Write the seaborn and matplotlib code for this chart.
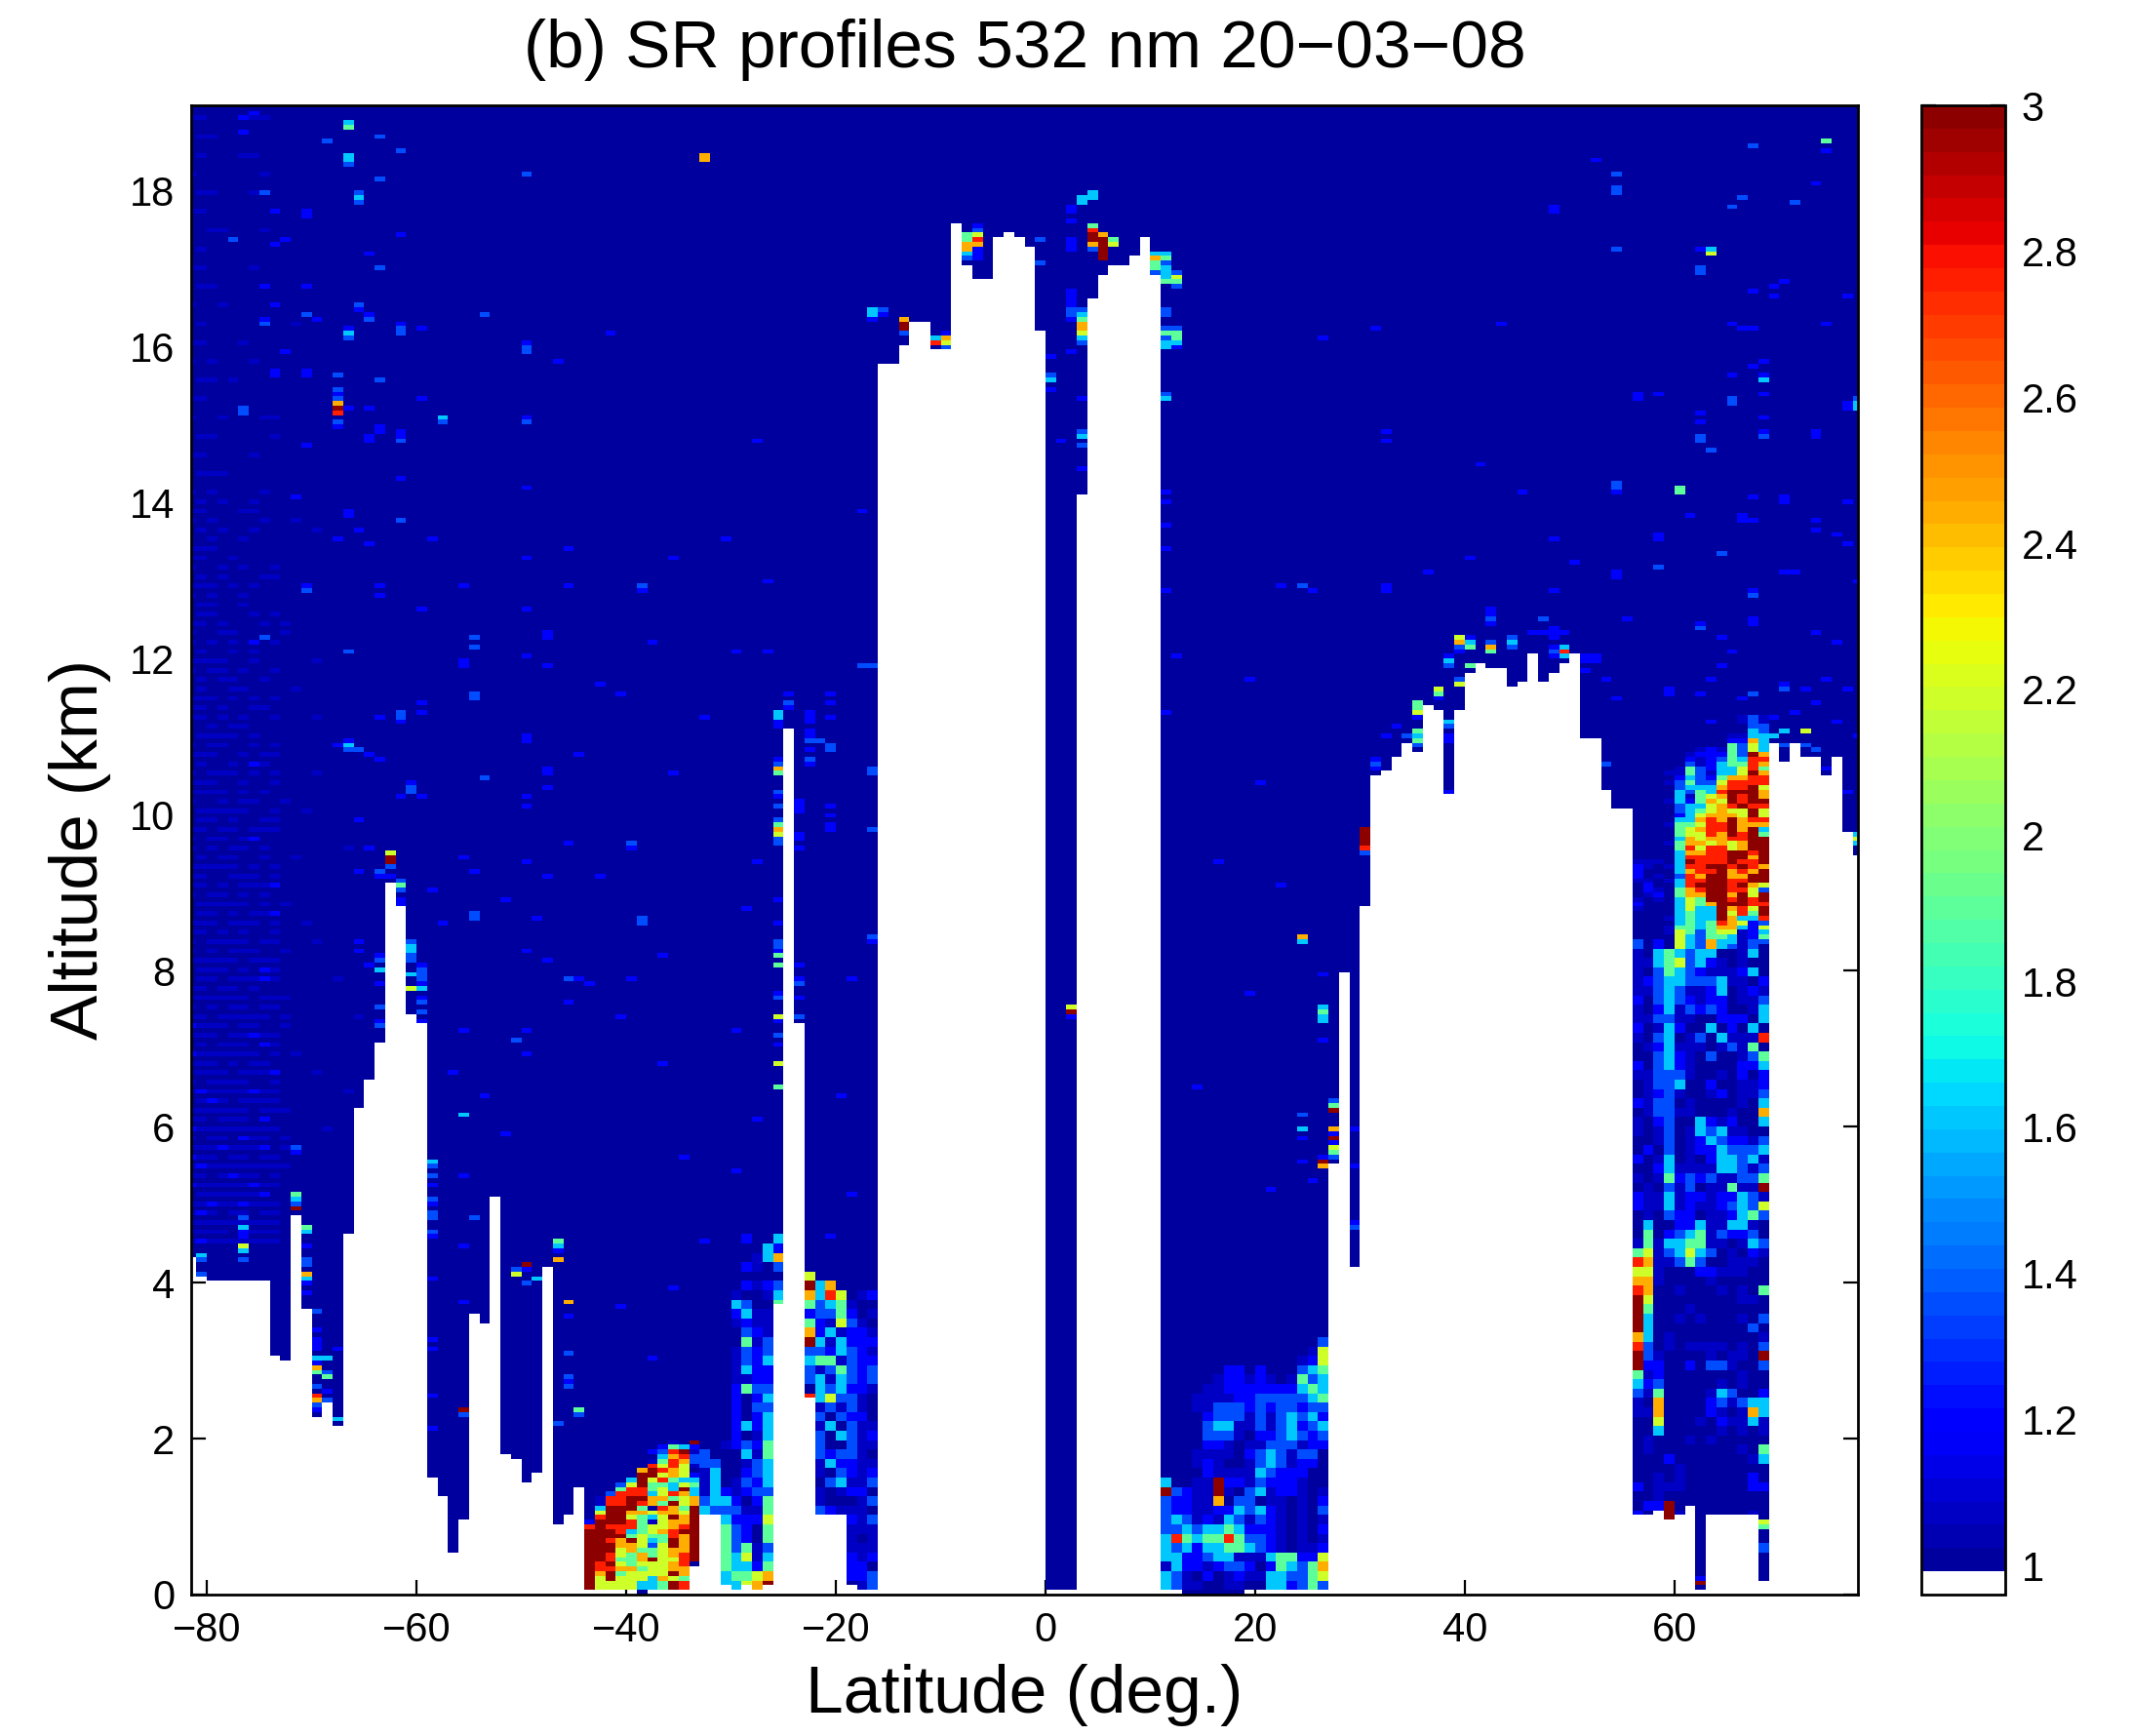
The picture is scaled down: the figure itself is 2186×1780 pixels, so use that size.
import numpy as np
import pandas as pd
import matplotlib
matplotlib.use("Agg")
import matplotlib.pyplot as plt
from matplotlib.colors import ListedColormap
import seaborn as sns

sns.set_style("white")
plt.rcParams["font.family"] = ["Liberation Sans", "DejaVu Sans"]
plt.rcParams["text.color"] = "black"
plt.rcParams["axes.labelcolor"] = "black"
plt.rcParams["xtick.color"] = "black"
plt.rcParams["ytick.color"] = "black"

# ====================================
# Data
# ====================================

lat_first = -82
alt_step = 0.06
n_rows = 320

# top of the masked (white) part of each 1 degree column, km, from -82 to 77
surface_km = [
    4.30, 4.07, 4.02, 4.02, 4.02, 4.02, 4.02, 4.02, 3.05, 2.98,
    4.85, 3.65, 2.28, 2.45, 2.16, 4.61, 6.23, 6.59, 7.06, 9.15,
    8.80, 7.43, 7.30, 1.50, 1.26, 0.54, 0.96, 3.59, 3.47, 5.09,
    1.80, 1.75, 1.44, 1.56, 4.19, 0.90, 1.00, 1.37, 0.06, 0.06,
    0.06, 0.06, 0.06, 0.00, 0.06, 0.06, 0.06, 0.06, 0.37, 1.02,
    1.02, 0.12, 0.06, 0.12, 0.06, 0.12, 3.72, 11.08, 7.32, 2.51,
    1.02, 1.02, 1.02, 0.12, 0.06, 0.06, 15.80, 15.80, 16.04, 16.34,
    16.34, 15.97, 15.97, 17.59, 17.05, 16.87, 16.87, 17.41, 17.48, 17.41,
    17.29, 16.21, 0.06, 0.06, 0.06, 14.10, 16.64, 16.94, 17.05, 17.05,
    17.17, 17.41, 16.94, 0.06, 0.06, 0.00, 0.00, 0.00, 0.00, 0.00,
    0.00, 0.06, 0.06, 0.06, 0.06, 0.06, 0.06, 0.06, 0.06, 5.50,
    7.96, 4.20, 8.85, 10.52, 10.58, 10.71, 10.95, 10.83, 11.43, 11.36,
    10.24, 11.31, 11.85, 11.96, 11.91, 11.91, 11.66, 11.73, 12.09, 11.73,
    11.85, 11.96, 12.09, 11.01, 11.01, 10.35, 10.05, 10.11, 1.02, 1.02,
    1.07, 0.96, 1.02, 1.12, 0.06, 1.02, 1.02, 1.02, 1.02, 1.02,
    0.18, 10.95, 10.70, 10.95, 10.77, 10.71, 10.48, 10.77, 9.81, 9.51,
]

# SR value for each digit used in the tables below
sr_levels = [1.02, 1.08, 1.20, 1.36, 1.60, 1.90, 2.20, 2.45, 2.75, 3.00]

# faint noise, columns -82 to -65, one line every 0.24 km, top line 18.9 km
haze_rows = [
    "110000110000000000", "011000000000000000", "010001100000000000", "100000010000000000",
    "011000100000000000", "110000000000000000", "001100010000000000", "010000000000000000",
    "110000100000000000", "011000000000000000", "100100000000000000", "010000000010000000",
    "110001000000000000", "101000100000000000", "011010000000000000", "110000000000000000",
    "100100011000000000", "011000001000000000", "110000100000000000", "011100000000000000",
    "101000010000000000", "110001100000000000", "010100100000100000", "111000000000000000",
    "100101001000000000", "111010100000000000", "011001000000000000", "110100010100000000",
    "101010101000000000", "111100100000100000", "010110010000000000", "111010101000000000",
    "110101001000100000", "011110100000000000", "111001011000000000", "101110101000100000",
    "111101010000000000", "011111001001000000", "110110111000000000", "101011010000000100",
    "111110101000000000", "110101112000000000", "011111010100000000", "111011101001000000",
    "101111011000100000", "111110111000000000", "011011121000001000", "111111011100000000",
    "110111110100000010", "111011211000000000", "211111101010000000", "111101112000100000",
    "121111211000000100", "111111011100000000", "211111111000010000", "111211120100000000",
    "121111111100000000", "211111211000000000", "112112111000000000", "111111111000000000",
    "121111111000000000",
]

# second set of the same noise, lines between the first set, top line 13.86 km
haze_between_rows = [
    "010100100000000000", "101000010010000000", "001001000000000000", "110010000000000000",
    "010100011000000000", "101001000000000000", "011000101000000000", "100110000100000000",
    "010010100000000000", "101101001000000000", "010011000010000000", "110100110000000000",
    "001011000000000000", "101100101000000000", "010010210000000000", "111001001000000000",
    "100101100100000000", "011010011000000000", "101101200000000000", "010110010010000000",
    "110011101000000000", "101101010000000000", "011010112000000000", "110101001000000000",
    "101011100100000000", "011101021000000000", "110110100000000000", "101011011000000000",
    "211101100100000000", "010111021000000000", "111010110000000000", "101111001000000000",
    "012101111000000000", "110111020000000000", "101102110100000000", "211011011000000000",
    "110121101000000000", "011111120000000000", "121011011000000000", "111102111000000000",
]

# dust layer, columns -44 to -34, one line per 0.06 km, from 0.06 km
dust_rows = [
    "00000000109", "00000002542", "00000023891", "00000004783", "00000015873",
    "00000086861", "00000798760", "00000996762", "00004968544", "00036955465",
    "00058856494", "00388846874", "01889977567", "01889875967", "04999508759",
    "06997767769", "08996546979", "29998516779", "89888566789", "99984567899",
    "99995655879", "99879645979", "99977636979", "99967556779", "99865756789",
    "99855796689", "98965666780", "98877566770", "97956666970", "96966647650",
    "96666445980", "96666445980",
]

# columns -33 to -26, one line per 0.12 km, from 0.06 km
south_left_rows = [
    "00002004", "00000042", "00000147", "00002103", "00000000", "00002123",
    "00010014", "00043005", "00024110", "00012110", "00003210", "00005130",
    "00013230", "00013240", "00014220", "00011220", "00025330", "00020240",
    "00020330", "00020240", "00024240", "00020140", "00123250", "30004150",
    "33001340", "14002340", "14013240", "14212330", "34420250", "43331150",
    "00422260", "00532050", "00532050", "00535130", "00546140", "00544250",
    "00455670", "00446790",
]

# columns -23 to -17, one line per 0.12 km, from 0.06 km
south_right_rows = [
    "6000000", "9470000", "7486012", "5345100", "2335201", "5216310", "7241221",
    "9414222", "3324321", "4551322", "3135323", "3414323", "0434221", "8463310",
    "0131310", "0303220", "0140311", "0304312", "0300311", "0323310", "0142211",
    "0103212", "0034113", "0101220", "0100013", "0321110", "0000213", "0000111",
    "0000101", "0000111", "0000212", "0000220", "0000223", "0000013",
]

# columns 11 to 26, one line per 0.12 km, from 0.06 km
tropic_rows = [
    "0000000000000003", "0000000000000016", "0000000000000126", "0000002202000345",
    "0000012212101534", "0000112222222454", "0001111223333345", "0001133323233233",
    "0000233313134342", "0000344113134234", "0000333102234323", "0000221011333122",
    "0001111023431330", "0001210013431220", "0000211114322200", "4001192213222100",
    "9321191034122101", "3221170330110102", "3221122434210103", "3431214313210101",
    "3343445422210102", "4854558533210101", "4342445543210112", "4422344111455226",
    "1422123320254357", "4310201211443356", "4311001100442353",
]

# smoke plume, columns 56 to 68, one line per 0.06 km, from 8.31 km
plume_high_rows = [
    "0000000000131", "0000000200131", "0000000000033", "0000000000043", "0000000001144",
    "0000000002274", "0000000005364", "0000001215364", "0000012225397", "0000021235488",
    "0000031245587", "0000153244685", "0001153144697", "0000243257788", "0001353368888",
    "0000344478896", "0000435489997", "0000415679897", "0001425769899", "0000344678988",
    "0000345676696", "0000246777696", "0000447879788", "0001556889777", "0000567889794",
    "0000566879895", "0000476778899", "0001577676799", "0000586886799", "0000477889989",
    "0000488889979", "1110498889889", "2101488998987", "2000478897879", "2010387997799",
    "1101488998899", "0200489998976", "0210578998863", "0120577997969", "1010465998989",
    "2000465799988", "1000464497869", "0000454496859", "0001454497448", "0000454587623",
    "0001554577426", "0001653566124", "0000643554125", "3020643744133", "3020643743130",
]

# same columns, one line per 0.12 km, from 0.99 km
plume_low_rows = [
    "1045434400140", "1145634210100", "1035432111240", "1234433341102", "1134311240121",
    "2034321220113", "1024132320014", "1133110022204", "2014200402040", "1034013041118",
    "0124111013150", "0034210300135", "2034210000224", "1133310010202", "0133400200112",
    "0123100120113", "2133010000104", "0133110001007", "1023004212004", "1013014341100",
    "0013012432213", "0203012243334", "2014010244341", "0024111144313", "1015232311335",
    "0103130115119", "2114122122431", "2114121123436", "0103220112453", "0400224114410",
    "0502345132230", "1514455110143", "5613464301021", "8711353001110", "6610002211100",
    "7710000100000", "8700100010105", "9600000000110", "9500010000000", "9400101000103",
    "9400000000030", "7401000000001", "8301011110103", "9310000101109", "9220020331003",
    "5120000000100", "4230000010100", "3150000143002", "1070000231344", "1170000210174",
    "0060001021141", "0040000010101", "0100010100000", "0100000000105", "0002000000014",
    "0000100000000", "0010100000020", "2011100000022", "0010000000000", "0229000000000",
    "2009100000010",
]

# single cells: (latitude column, altitude km, digit)
specks_high_west = [
    (-67, 18.89, 4), (-67, 18.82, 5), (-76, 19.00, 2), (-77, 18.90, 2), (-77, 18.76, 2),
    (-69, 18.65, 3), (-64, 18.70, 3), (-62, 18.52, 3), (-67, 18.46, 4), (-67, 18.41, 4),
    (-67, 18.35, 3), (-50, 18.22, 3), (-64, 18.16, 3), (-75, 17.98, 3), (-66, 17.98, 3),
    (-66, 17.92, 4), (-66, 17.86, 3), (-74, 17.75, 2), (-71, 17.75, 2), (-71, 17.69, 2),
    (-62, 17.45, 2), (-78, 17.39, 3), (-73, 17.39, 2), (-74, 17.32, 2), (-65, 17.21, 2),
    (-64, 17.02, 3), (-75, 16.78, 2), (-71, 16.78, 2), (-74, 16.55, 2), (-66, 16.55, 3),
    (-66, 16.49, 2), (-71, 16.43, 3), (-70, 16.37, 2), (-65, 16.43, 2), (-65, 16.37, 3),
    (-54, 16.43, 3), (-75, 16.37, 2), (-75, 16.31, 3), (-62, 16.31, 2), (-62, 16.25, 3),
    (-62, 16.19, 3), (-67, 16.25, 2), (-67, 16.19, 4), (-67, 16.13, 3), (-60, 16.25, 2),
    (-42, 16.19, 2), (-50, 16.07, 2), (-50, 16.01, 3), (-50, 15.95, 3), (-73, 15.95, 2),
    (-47, 15.80, 2), (-74, 15.70, 2), (-74, 15.65, 2), (-71, 15.70, 2), (-71, 15.65, 2),
    (-68, 15.65, 3), (-64, 15.59, 3), (-68, 15.47, 3), (-68, 15.41, 2), (-68, 15.35, 3),
    (-68, 15.29, 7), (-68, 15.23, 9), (-68, 15.17, 8), (-77, 15.23, 3), (-77, 15.17, 3),
    (-60, 15.35, 2), (-67, 15.23, 2), (-65, 15.23, 2), (-58, 15.11, 4), (-58, 15.05, 3),
    (-50, 15.11, 2), (-50, 15.05, 3), (-68, 15.00, 3), (-68, 14.94, 2), (-64, 14.94, 2),
    (-64, 14.88, 2), (-62, 14.88, 2), (-62, 14.82, 2), (-62, 14.76, 3), (-65, 14.82, 2),
    (-65, 14.76, 2), (-71, 14.70, 2), (-72, 14.05, 2), (-62, 14.30, 2), (-50, 14.20, 2),
    (-68, 13.55, 2), (-67, 13.90, 2), (-67, 13.85, 2), (-62, 13.75, 3), (-65, 13.45, 2),
    (-66, 13.65, 2), (-59, 13.55, 2), (-59, 13.50, 2), (-50, 13.30, 2), (-46, 13.40, 2),
    (-56, 12.90, 2), (-71, 12.95, 2), (-71, 12.85, 3), (-64, 12.90, 2), (-64, 12.80, 2),
    (-60, 12.65, 2), (-50, 12.65, 2), (-46, 12.90, 2), (-39, 12.90, 3), (-33, 18.38, 7),
    (-33, 18.44, 7),
]

specks_mid_west = [
    (-67, 12.06, 3), (-55, 12.27, 3), (-55, 12.15, 3), (-75, 12.25, 3), (-76, 12.20, 2),
    (-67, 10.87, 4), (-67, 10.81, 3), (-66, 10.81, 3), (-65, 10.76, 2), (-64, 10.70, 2),
    (-67, 10.95, 2), (-68, 10.90, 2), (-61, 10.29, 3), (-60, 10.23, 2), (-62, 10.23, 2),
    (-63, 9.49, 6), (-63, 9.43, 9), (-63, 9.37, 9), (-63, 9.31, 3), (-64, 9.25, 3),
    (-64, 9.19, 2), (-63, 9.19, 2), (-62, 9.13, 3), (-62, 9.07, 5), (-62, 9.01, 3),
    (-62, 8.89, 2), (-62, 8.84, 2), (-61, 8.36, 3), (-61, 8.29, 4), (-61, 8.23, 4),
    (-61, 8.17, 3), (-61, 8.11, 3), (-61, 7.94, 4), (-61, 7.75, 6), (-60, 8.04, 2),
    (-60, 7.98, 3), (-60, 7.92, 3), (-60, 7.86, 3), (-60, 7.80, 2), (-60, 7.75, 4),
    (-60, 7.64, 2), (-60, 7.57, 3), (-60, 7.45, 3), (-60, 7.34, 2), (-64, 8.17, 2),
    (-64, 8.11, 3), (-64, 7.99, 4), (-64, 7.81, 2), (-64, 7.51, 3), (-64, 7.34, 2),
    (-64, 7.27, 3), (-66, 8.36, 2), (-66, 8.25, 2), (-65, 8.05, 2), (-46, 7.88, 3),
    (-45, 7.88, 2), (-51, 7.10, 3), (-46, 7.60, 2), (-50, 6.95, 2), (-50, 7.25, 2),
    (-72, 5.72, 3), (-72, 5.66, 2), (-72, 5.13, 5), (-72, 5.06, 4), (-72, 5.00, 3),
    (-72, 4.94, 9), (-77, 4.81, 3), (-77, 4.69, 4), (-77, 4.58, 2), (-77, 4.46, 6),
    (-77, 4.39, 4), (-77, 4.30, 3), (-81, 4.35, 4), (-81, 4.26, 3), (-81, 4.12, 3),
    (-59, 5.53, 4), (-59, 5.47, 3), (-59, 5.36, 3), (-59, 5.26, 2), (-59, 5.06, 3),
    (-59, 5.00, 2), (-59, 4.88, 3), (-59, 4.82, 3), (-59, 4.64, 3), (-59, 4.58, 2),
    (-59, 4.05, 2), (-59, 3.26, 2), (-59, 3.14, 2), (-59, 2.55, 2), (-59, 2.13, 2),
    (-56, 6.13, 4), (-56, 5.36, 2), (-56, 4.46, 2), (-56, 3.75, 2), (-56, 2.37, 9),
    (-56, 2.32, 3), (-55, 4.82, 3), (-50, 4.23, 9), (-50, 4.17, 2), (-50, 3.99, 3),
    (-51, 4.17, 3), (-51, 4.08, 6), (-49, 4.05, 4), (-47, 4.52, 5), (-47, 4.46, 4),
    (-47, 4.40, 2), (-47, 4.29, 7), (-46, 3.74, 7), (-46, 3.56, 2), (-46, 3.09, 3),
    (-46, 2.79, 3), (-46, 2.73, 2), (-46, 2.67, 3), (-45, 2.37, 5), (-45, 2.32, 3),
    (-47, 2.18, 3), (-53, 3.57, 2), (-53, 3.46, 3), (-71, 4.72, 5), (-71, 4.66, 4),
    (-71, 4.46, 2), (-71, 4.28, 3), (-71, 4.22, 3), (-71, 4.11, 7), (-71, 4.05, 4),
    (-71, 3.99, 2), (-71, 3.84, 2), (-70, 3.62, 3), (-70, 3.39, 2), (-70, 3.26, 2),
    (-70, 3.20, 2), (-70, 3.14, 2), (-70, 3.02, 4), (-70, 2.96, 2), (-70, 2.91, 7),
    (-70, 2.85, 5), (-70, 2.67, 3), (-70, 2.55, 8), (-70, 2.50, 7), (-70, 2.43, 3),
    (-70, 2.37, 2), (-69, 3.02, 4), (-69, 2.85, 3), (-69, 2.79, 5), (-69, 2.61, 2),
    (-69, 2.50, 3), (-68, 3.15, 2), (-68, 2.25, 4),
    (-48, 12.33, 2), (-48, 12.27, 2), (-50, 12.04, 2), (-50, 12.00, 2), (-56, 11.94, 2),
    (-56, 11.88, 2), (-48, 11.88, 2), (-55, 11.56, 3), (-55, 11.50, 3), (-43, 11.67, 2),
    (-41, 11.52, 2), (-60, 11.40, 2), (-60, 11.30, 2), (-62, 11.30, 3), (-62, 11.24, 3),
    (-62, 11.18, 2), (-64, 11.25, 2), (-50, 10.98, 2), (-50, 10.93, 2), (-45, 10.75, 2),
    (-54, 10.45, 3), (-48, 10.60, 2), (-48, 10.55, 2), (-48, 10.36, 2), (-50, 10.20, 2),
    (-50, 10.08, 2), (-61, 10.40, 2), (-61, 10.34, 3), (-50, 9.40, 2), (-56, 9.47, 2),
    (-48, 9.20, 2), (-40, 9.60, 3), (-40, 9.55, 2), (-55, 9.25, 2), (-55, 8.70, 3),
    (-55, 8.64, 3), (-49, 8.64, 2), (-39, 8.68, 3), (-39, 8.62, 3), (-52, 8.90, 2),
    (-50, 8.22, 2), (-48, 8.13, 2), (-44, 7.80, 2), (-37, 8.20, 2), (-41, 7.40, 2),
    (-50, 7.23, 2), (-66, 9.90, 2), (-65, 9.55, 2), (-66, 9.25, 2), (-59, 9.05, 2),
    (-58, 8.60, 2), (-56, 7.20, 2), (-57, 6.70, 2), (-54, 6.40, 2), (-52, 5.90, 2),
]

specks_south_spike = [
    (-26, 11.29, 4), (-26, 11.22, 4), (-26, 11.16, 2), (-26, 11.10, 2), (-26, 10.68, 2),
    (-26, 10.62, 3), (-26, 10.56, 7), (-26, 10.50, 5), (-26, 10.26, 3), (-26, 10.20, 2),
    (-26, 10.09, 3), (-26, 9.91, 3), (-26, 9.85, 5), (-26, 9.79, 7), (-26, 9.73, 6),
    (-26, 9.66, 3), (-26, 9.60, 3), (-26, 8.88, 2), (-26, 8.60, 2), (-26, 8.35, 3),
    (-26, 8.29, 3), (-26, 8.23, 2), (-26, 8.17, 5), (-26, 8.04, 5), (-26, 7.69, 2),
    (-26, 7.63, 3), (-26, 7.40, 6), (-26, 7.33, 2), (-26, 7.16, 3), (-26, 7.04, 2),
    (-26, 6.80, 6), (-26, 6.50, 5), (-25, 11.40, 3), (-25, 11.34, 2), (-25, 11.52, 2),
    (-24, 10.15, 2), (-24, 10.09, 2), (-24, 10.03, 2), (-24, 9.73, 2), (-24, 9.67, 2),
    (-24, 9.55, 2), (-24, 8.08, 2), (-24, 7.87, 2), (-24, 7.81, 3), (-24, 7.63, 2),
    (-24, 7.40, 3), (-23, 11.33, 2), (-23, 11.27, 2), (-23, 11.16, 2), (-23, 11.07, 2),
    (-23, 10.98, 2), (-23, 10.92, 3), (-23, 10.80, 2), (-23, 10.68, 3), (-23, 10.62, 2),
    (-21, 11.56, 2), (-21, 11.40, 2), (-21, 11.27, 2), (-21, 10.86, 3), (-21, 10.80, 3),
    (-21, 10.10, 2), (-21, 10.00, 2), (-21, 9.88, 2), (-21, 9.79, 2), (-22, 10.93, 3),
    (-17, 11.90, 3), (-17, 10.57, 3), (-17, 10.51, 3), (-17, 9.79, 3), (-17, 8.42, 3),
    (-17, 8.35, 2), (-31, 13.55, 2), (-30, 12.10, 2), (-27, 13.00, 2), (-27, 12.10, 2),
    (-18, 13.90, 2), (-16, 16.40, 2), (-16, 16.46, 3), (-28, 14.80, 2), (-36, 13.30, 2),
    (-38, 12.20, 2), (-33, 11.25, 2), (-43, 9.20, 2), (-46, 9.65, 2), (-36, 10.50, 2),
    (-40, 7.90, 2), (-30, 7.20, 2), (-37, 6.80, 2), (-35, 5.60, 2), (-33, 4.55, 2),
    (-41, 3.70, 2), (-38, 3.00, 2), (-36, 3.90, 2), (-18, 11.90, 3), (-39, 12.85, 2),
    (-28, 9.40, 2), (-29, 8.80, 2), (-19, 7.90, 2), (-20, 6.40, 2), (-28, 6.10, 2),
    (-30, 5.40, 2), (-19, 5.10, 2), (-21, 4.60, 2),
]

specks_tops = [
    (-17, 16.48, 4), (-17, 16.42, 4), (-17, 16.37, 2), (-14, 16.37, 7), (-14, 16.30, 9),
    (-14, 16.24, 9), (-14, 16.18, 3), (-11, 16.12, 4), (-11, 16.07, 8), (-10, 16.18, 2),
    (-10, 16.12, 7), (-10, 16.06, 6), (-10, 16.00, 3), (-8, 17.44, 5), (-8, 17.38, 5),
    (-8, 17.31, 7), (-8, 17.26, 7), (-8, 17.20, 4), (-8, 17.14, 3), (-7, 17.56, 2),
    (-7, 17.50, 3), (-7, 17.44, 6), (-7, 17.38, 8), (-7, 17.32, 7), (-7, 17.26, 2),
    (-7, 17.20, 2), (-7, 17.14, 2), (-1, 17.38, 3), (-1, 17.08, 3), (0, 15.85, 2),
    (0, 15.60, 3), (0, 15.54, 4), (0, 15.47, 2), (2, 17.79, 2), (2, 17.73, 2),
    (2, 17.62, 2), (2, 17.38, 2), (2, 17.32, 2), (2, 17.26, 2), (2, 16.73, 2),
    (2, 16.67, 2), (2, 16.61, 2), (2, 16.55, 2), (2, 16.48, 3), (2, 16.42, 3),
    (2, 16.36, 2), (2, 15.94, 2), (3, 17.91, 4), (3, 17.85, 4), (3, 16.48, 3),
    (3, 16.41, 4), (3, 16.37, 5), (3, 16.30, 7), (3, 16.24, 7), (3, 16.18, 6),
    (3, 16.12, 4), (3, 16.07, 3), (3, 15.34, 2), (4, 17.98, 4), (4, 17.91, 4),
    (4, 17.56, 5), (4, 17.50, 8), (4, 17.44, 9), (4, 17.38, 9), (4, 17.32, 7),
    (4, 17.26, 3), (5, 17.44, 7), (5, 17.38, 9), (5, 17.32, 9), (5, 17.26, 9),
    (5, 17.20, 9), (5, 17.14, 9), (6, 17.38, 5), (6, 17.32, 6), (10, 17.20, 4),
    (10, 17.14, 7), (10, 17.08, 5), (10, 17.02, 5), (10, 16.96, 3), (11, 17.20, 4),
    (11, 17.14, 5), (11, 17.08, 3), (11, 17.02, 4), (11, 16.96, 4), (11, 16.90, 4),
    (11, 16.84, 5), (11, 16.48, 3), (11, 16.42, 3), (11, 16.24, 3), (11, 16.18, 5),
    (11, 16.12, 3), (11, 16.06, 4), (11, 16.00, 4), (11, 15.40, 3), (11, 15.34, 4),
    (12, 16.96, 3), (12, 16.90, 6), (12, 16.84, 5), (12, 16.78, 3), (12, 16.24, 3),
    (12, 16.18, 5), (12, 16.12, 5), (12, 16.06, 4), (12, 16.00, 2), (2, 7.50, 6),
    (2, 7.44, 9), (2, 7.38, 2), (1, 14.80, 2), (3, 14.90, 3), (3, 14.84, 4), (3, 14.75, 3),
    (3, 14.40, 2), (11, 13.40, 2), (11, 12.85, 2), (12, 12.00, 2), (11, 11.30, 2),
    (24, 8.45, 7), (24, 8.39, 4), (26, 7.50, 4), (26, 7.44, 5), (26, 7.38, 4),
    (26, 7.32, 4), (26, 7.95, 2), (26, 7.10, 2), (24, 6.15, 3), (24, 5.95, 4),
    (24, 5.85, 2), (22, 12.90, 2), (25, 12.85, 2), (19, 11.70, 2), (27, 6.31, 3),
    (27, 6.26, 5), (27, 6.19, 9), (27, 5.96, 7), (27, 5.90, 2), (27, 5.83, 9),
    (27, 5.78, 2), (27, 5.72, 6), (27, 5.66, 5), (27, 5.60, 3), (26, 5.60, 2),
    (26, 5.54, 9), (26, 5.48, 7), (25, 5.30, 2), (24, 5.55, 2), (29, 4.76, 2),
    (29, 4.69, 3), (29, 5.97, 2), (29, 5.50, 2), (62, 0.12, 9), (62, 0.18, 2),
    (68, 0.90, 6), (68, 0.84, 5), (68, 0.64, 3), (68, 0.58, 3),
    (32, 14.90, 2), (32, 14.80, 2), (32, 12.90, 2), (24, 12.90, 3), (11, 14.10, 2),
    (11, 14.00, 2), (11, 13.70, 2), (48, 17.80, 2), (48, 17.70, 2), (52, 18.40, 2),
    (48, 13.50, 2), (43, 16.30, 2), (26, 16.10, 2), (31, 16.20, 2), (41, 14.50, 2),
    (45, 14.10, 2), (50, 13.20, 2), (36, 13.10, 2), (40, 13.30, 2), (20, 10.40, 2),
    (16, 9.40, 2), (22, 9.10, 2), (19, 7.70, 2), (14, 6.50, 2), (21, 5.20, 2),
]

specks_ridge = [
    (39, 12.24, 6), (39, 12.18, 7), (39, 12.12, 3), (39, 12.06, 2), (40, 12.24, 2),
    (40, 12.18, 4), (40, 12.12, 5), (40, 11.90, 5), (38, 12.00, 2), (38, 11.94, 4),
    (38, 11.89, 3), (39, 11.73, 3), (39, 11.69, 3), (39, 11.64, 6), (37, 11.59, 6),
    (37, 11.52, 5), (37, 11.46, 2), (35, 11.40, 5), (35, 11.34, 5), (35, 11.29, 6),
    (35, 11.22, 2), (35, 11.04, 5), (35, 10.98, 4), (35, 10.92, 5), (35, 10.87, 3),
    (34, 10.98, 3), (33, 11.10, 2), (32, 10.98, 2), (38, 11.16, 4), (38, 11.10, 3),
    (38, 10.98, 2), (38, 10.92, 2), (38, 10.27, 2), (31, 10.69, 2), (31, 10.62, 3),
    (31, 10.56, 2), (42, 12.18, 3), (42, 12.12, 7), (42, 12.06, 5), (44, 12.24, 3),
    (44, 12.18, 4), (44, 12.12, 3), (48, 12.36, 2), (48, 12.30, 2), (48, 12.24, 2),
    (48, 12.12, 2), (48, 12.06, 3), (48, 12.00, 2), (49, 12.30, 2), (49, 12.12, 4),
    (49, 12.06, 8), (49, 12.00, 4), (51, 12.00, 2), (51, 11.94, 2), (51, 11.82, 2),
    (52, 12.00, 2), (52, 11.95, 2), (42, 12.60, 2), (42, 12.54, 2), (42, 12.48, 3),
    (42, 12.42, 2), (47, 12.48, 3), (47, 12.35, 2), (46, 12.30, 2), (30, 9.79, 9),
    (30, 9.73, 9), (30, 9.67, 9), (30, 9.61, 9), (30, 9.55, 8), (30, 9.49, 3),
    (53, 10.63, 3), (32, 12.85, 2), (48, 12.85, 2), (55, 12.50, 2), (59, 11.62, 2),
    (59, 11.56, 2), (54, 11.50, 2), (53, 11.70, 2),
]

specks_high_east = [
    (67, 18.57, 3), (74, 18.65, 3), (74, 18.60, 5), (74, 18.53, 2), (54, 18.22, 3),
    (54, 18.02, 3), (54, 17.96, 3), (73, 18.08, 2), (66, 17.89, 3), (65, 17.80, 3),
    (71, 17.86, 3), (63, 17.26, 4), (63, 17.20, 6), (62, 17.27, 2), (62, 17.00, 3),
    (62, 16.94, 3), (54, 17.27, 3), (67, 16.69, 2), (69, 16.78, 2), (69, 16.62, 2),
    (70, 16.85, 2), (76, 16.64, 2), (65, 16.31, 2), (66, 16.25, 2), (67, 16.25, 2),
    (74, 16.31, 2), (67, 15.77, 2), (68, 15.83, 2), (65, 15.64, 2), (68, 15.64, 2),
    (68, 15.59, 4), (56, 15.38, 2), (56, 15.32, 2), (58, 15.40, 2), (65, 15.32, 3),
    (65, 15.26, 3), (68, 15.40, 2), (77, 15.33, 3), (77, 15.28, 4), (77, 15.23, 4),
    (76, 15.28, 2), (76, 15.23, 2), (62, 15.17, 2), (62, 15.04, 2), (62, 14.87, 3),
    (62, 14.81, 3), (63, 14.64, 3), (68, 15.10, 2), (68, 14.93, 2), (68, 14.87, 3),
    (73, 14.93, 2), (73, 14.87, 2), (54, 14.24, 3), (54, 14.18, 3), (54, 14.12, 2),
    (60, 14.12, 5), (60, 14.18, 5), (67, 14.09, 2), (70, 14.07, 2), (70, 14.01, 2),
    (66, 13.83, 2), (66, 13.78, 2), (67, 13.75, 2), (73, 13.75, 2), (73, 13.65, 2),
    (61, 13.80, 2), (58, 13.61, 2), (58, 13.50, 2), (58, 13.19, 3), (64, 13.36, 3),
    (54, 13.10, 2), (54, 13.04, 2), (70, 13.08, 2), (71, 13.08, 2), (67, 12.83, 3),
    (67, 12.89, 2), (62, 12.46, 2), (62, 12.40, 3), (67, 12.52, 2), (67, 12.46, 2),
    (64, 12.26, 2), (65, 12.10, 2), (67, 11.52, 3), (70, 11.64, 2), (70, 11.58, 3),
    (54, 11.50, 2), (62, 11.55, 2), (76, 13.45, 2), (75, 13.60, 2), (73, 12.30, 2),
    (75, 12.20, 2), (76, 14.00, 2), (77, 13.00, 2), (72, 11.60, 2), (74, 11.70, 2),
    (76, 11.60, 2), (73, 11.40, 2), (69, 11.25, 2), (66, 11.50, 2), (63, 11.70, 2),
    (64, 11.90, 2), (71, 11.30, 2), (75, 11.20, 2), (77, 11.00, 2), (76, 10.30, 2),
    (77, 9.75, 4), (77, 9.70, 6), (77, 9.64, 4), (69, 10.98, 4), (70, 10.86, 3),
    (72, 10.90, 3), (73, 10.80, 3), (72, 11.05, 6), (70, 11.05, 4), (74, 10.60, 2),
]

lat_ticks = [-80, -60, -40, -20, 0, 20, 40, 60]
alt_ticks = [0, 2, 4, 6, 8, 10, 12, 14, 16, 18]
sr_ticks = [1, 1.2, 1.4, 1.6, 1.8, 2, 2.2, 2.4, 2.6, 2.8, 3]
sr_tick_labels = ["1", "1.2", "1.4", "1.6", "1.8", "2", "2.2", "2.4", "2.6", "2.8", "3"]

# ====================================
# Build the table
# ====================================

n_cols = len(surface_km)
sr = np.full((n_rows, n_cols), sr_levels[0])


def stamp(rows, left_lat, bottom_km, line_km, span=None):
    step = int(round(line_km / alt_step))
    span = span or step
    first = int(round(bottom_km / alt_step))
    for k, line in enumerate(rows[::-1]):
        for j, ch in enumerate(line):
            sr[first + k * step:first + k * step + span, left_lat - lat_first + j] = sr_levels[int(ch)]


stamp(haze_rows, -82, 4.5, 0.24, span=1)
stamp(haze_between_rows, -82, 4.62, 0.24, span=1)
stamp(south_left_rows, -33, 0.06, 0.12)
stamp(south_right_rows, -23, 0.06, 0.12)
stamp(dust_rows, -44, 0.06, 0.06)
stamp(tropic_rows, 11, 0.06, 0.12)
stamp(plume_low_rows, 56, 0.99, 0.12)
stamp(plume_high_rows, 56, 8.31, 0.06)

for specks in [specks_high_west, specks_mid_west, specks_south_spike,
               specks_tops, specks_ridge, specks_high_east]:
    for lat, km, level in specks:
        sr[int(km / alt_step), lat - lat_first] = sr_levels[level]

row_km = (np.arange(n_rows) + 0.5) * alt_step
hidden = row_km[:, None] < np.array(surface_km)[None, :]

lat_labels = np.arange(lat_first, lat_first + n_cols)
df = pd.DataFrame(sr, index=row_km, columns=lat_labels)

# 64 levels of jet, lowest one white as in the colour bar
jet = plt.get_cmap("jet")
colors = [jet((i + 1) / 65) for i in range(64)]
colors[0] = (1, 1, 1, 1)
cmap = ListedColormap(colors)

# ====================================
# Plot
# ====================================

fig = plt.figure(figsize=(10.93, 8.90), dpi=200)
ax = fig.add_axes([196 / 2186, 145 / 1780, 1709 / 2186, 1527 / 1780])
cax = fig.add_axes([1970 / 2186, 145 / 1780, 86 / 2186, 1527 / 1780])

sns.heatmap(
    df,
    mask=hidden,
    cmap=cmap,
    vmin=0.96,
    vmax=3,
    ax=ax,
    cbar_ax=cax,
    cbar_kws={"ticks": sr_ticks},
    xticklabels=False,
    yticklabels=False,
)

ax.set_xlim(-81.5 - lat_first, 77.5 - lat_first)
ax.set_ylim(0, 19.09 / alt_step)
ax.set_xticks([lat - lat_first for lat in lat_ticks])
ax.set_xticklabels([str(lat).replace("-", "\u2212") for lat in lat_ticks])
ax.set_yticks([km / alt_step for km in alt_ticks])
ax.set_yticklabels([str(km) for km in alt_ticks])
ax.tick_params(
    direction="in", length=5.4, width=0.8, top=True, right=True,
    bottom=True, left=True, labelsize=15, pad=6,
)

for spine in ax.spines.values():
    spine.set_visible(True)
    spine.set_linewidth(1.0)
    spine.set_color("black")

ax.set_xlabel("Latitude (deg.)", fontsize=25, labelpad=5)
ax.set_ylabel("Altitude (km)", fontsize=25, labelpad=7)
ax.set_title("(b) SR profiles 532 nm 20\u221203\u221208", fontsize=25, pad=14)

cb = ax.collections[0].colorbar
cb.outline.set_linewidth(1.0)
cb.outline.set_edgecolor("black")
cb.set_ticks(sr_ticks, labels=sr_tick_labels)
cax.tick_params(
    direction="in", length=5.4, width=0.8, left=True, right=True,
    labelsize=15, pad=6,
)

plt.savefig("out.png", dpi=200)
plt.close()
